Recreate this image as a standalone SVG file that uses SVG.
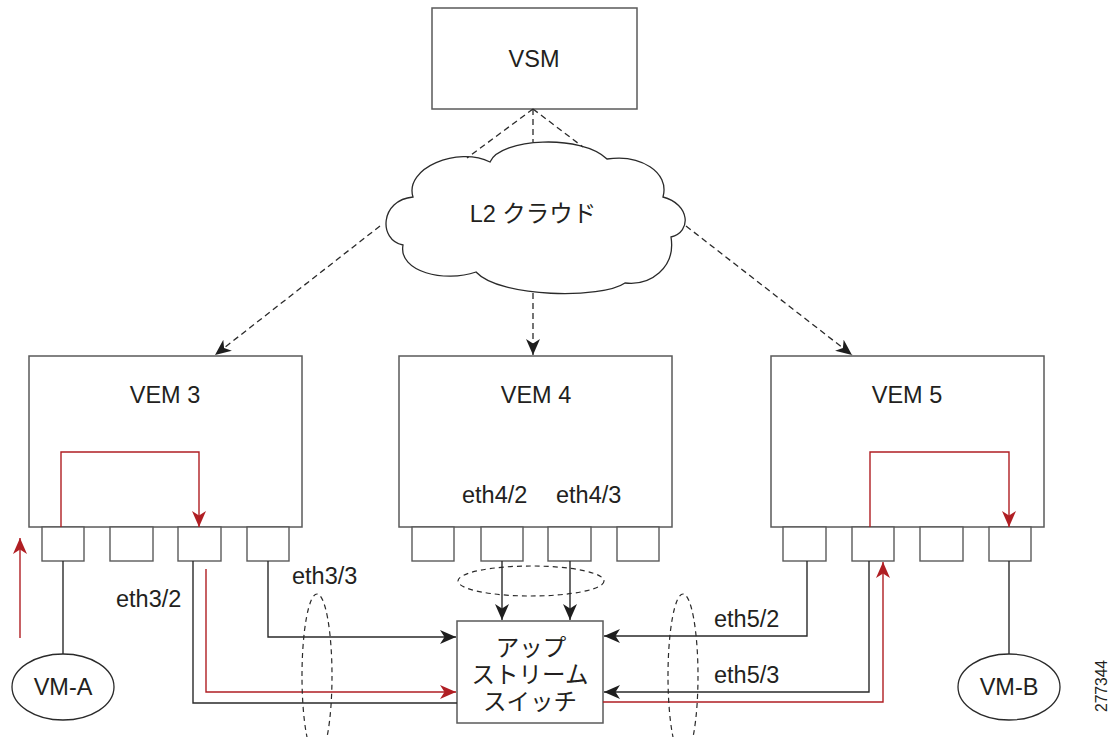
<svg xmlns="http://www.w3.org/2000/svg" width="1119" height="737" viewBox="0 0 1119 737">
  <style>
    .box { fill: #fff; stroke: #5a5a5a; stroke-width: 1.5; }
    .port { fill: #fff; stroke: #5a5a5a; stroke-width: 1.4; }
    .lbl { font-family: "Liberation Sans", "Noto Sans CJK JP", sans-serif; font-size: 23.5px; fill: #231f20; }
    .mid { text-anchor: middle; }
    .wire { fill: none; stroke: #2a2a2a; stroke-width: 1.4; }
    .red { fill: none; stroke: #b01e23; stroke-width: 1.4; }
    .dash { fill: none; stroke: #2a2a2a; stroke-width: 1.3; stroke-dasharray: 6 4; }
    .grp { fill: none; stroke: #2a2a2a; stroke-width: 1.2; stroke-dasharray: 5 4; }
    .cloud { fill: #fff; stroke: #2a2a2a; stroke-width: 1.3; }
    .vm { fill: #fff; stroke: #2a2a2a; stroke-width: 1.3; }
  </style>
  <defs>
    <marker id="ah" markerUnits="userSpaceOnUse" markerWidth="17" markerHeight="15" refX="16" refY="7" orient="auto">
      <path d="M0,0 L16,7 L0,14 L4.5,7 Z" fill="#1e1e1e"/>
    </marker>
    <marker id="ahr" markerUnits="userSpaceOnUse" markerWidth="17" markerHeight="15" refX="16" refY="7" orient="auto">
      <path d="M0,0 L16,7 L0,14 L4.5,7 Z" fill="#b01e23"/>
    </marker>
  </defs>
  <rect width="1119" height="737" fill="#fff"/>

  <g id="vsm">
    <rect class="box" x="432" y="8" width="205" height="101"/>
    <text class="lbl mid" x="534" y="67">VSM</text>
  </g>

  <g id="cloud">
    <path class="cloud" d="M413,197 C404,168 458,146 490,162 C500,138 582,134 607,159 C640,154 670,172 663,197 C690,204 692,232 671,237 C676,268 650,286 625,283 C602,299 500,298 476,272 C445,283 398,272 403,245 C378,240 380,200 413,197 Z"/>
    <text class="lbl mid" x="533" y="222">L2 クラウド</text>
  </g>

  <g id="vem3">
    <rect class="box" x="29" y="356" width="273" height="171"/>
    <text class="lbl mid" x="165" y="403">VEM 3</text>
    <rect class="port" x="42" y="527" width="42" height="34"/>
    <rect class="port" x="110" y="527" width="43" height="34"/>
    <rect class="port" x="178" y="527" width="43" height="34"/>
    <rect class="port" x="247" y="527" width="42" height="34"/>
    <text class="lbl" x="116" y="607">eth3/2</text>
    <text class="lbl" x="292" y="584">eth3/3</text>
  </g>

  <g id="vem4">
    <rect class="box" x="399" y="356" width="273" height="171"/>
    <text class="lbl mid" x="536" y="403">VEM 4</text>
    <text class="lbl" x="462" y="503">eth4/2</text>
    <text class="lbl" x="556" y="503">eth4/3</text>
    <rect class="port" x="412" y="527" width="42" height="34"/>
    <rect class="port" x="481" y="527" width="42" height="34"/>
    <rect class="port" x="548" y="527" width="43" height="34"/>
    <rect class="port" x="617" y="527" width="42" height="34"/>
  </g>

  <g id="vem5">
    <rect class="box" x="771" y="356" width="273" height="171"/>
    <text class="lbl mid" x="907" y="403">VEM 5</text>
    <rect class="port" x="783" y="527" width="43" height="34"/>
    <rect class="port" x="852" y="527" width="42" height="34"/>
    <rect class="port" x="920" y="527" width="43" height="34"/>
    <rect class="port" x="989" y="527" width="42" height="34"/>
    <text class="lbl" x="714" y="627">eth5/2</text>
    <text class="lbl" x="714" y="683">eth5/3</text>
  </g>

  <g id="upstream-switch">
    <rect class="box" x="457" y="621" width="146" height="102"/>
    <text class="lbl mid" x="531" y="656">アップ</text>
    <text class="lbl mid" x="530" y="683">ストリーム</text>
    <text class="lbl mid" x="530" y="710">スイッチ</text>
  </g>

  <g id="vm-a">
    <ellipse class="vm" cx="63" cy="687" rx="51" ry="33"/>
    <text class="lbl mid" x="63" y="695">VM-A</text>
  </g>

  <g id="vm-b">
    <ellipse class="vm" cx="1009" cy="687" rx="51" ry="33"/>
    <text class="lbl mid" x="1009" y="695">VM-B</text>
  </g>

  <!-- control links, uplinks and the traffic path, drawn over the nodes -->
  <g id="connectors">
    <path class="dash" d="M533,109 L467,158"/>
    <path class="dash" d="M533,109 L533,142"/>
    <path class="dash" d="M533,109 L583,147"/>
    <path class="dash" d="M380,226 L215,355" marker-end="url(#ah)"/>
    <path class="dash" d="M533,293 L533,355" marker-end="url(#ah)"/>
    <path class="dash" d="M686,226 L852,355" marker-end="url(#ah)"/>

    <path class="wire" d="M63,561 V654"/>
    <path class="wire" d="M193,561 V703 H457"/>
    <path class="wire" d="M268,561 V637 H456" marker-end="url(#ah)"/>
    <path class="wire" d="M502,561 V620" marker-end="url(#ah)"/>
    <path class="wire" d="M570,561 V620" marker-end="url(#ah)"/>
    <path class="wire" d="M807,561 V636 H604" marker-end="url(#ah)"/>
    <path class="wire" d="M869,561 V692 H604" marker-end="url(#ah)"/>
    <path class="wire" d="M1009,561 V654"/>

    <path class="red" d="M20,638 V538" marker-end="url(#ahr)"/>
    <path class="red" d="M61,527 V452 H199 V527" marker-end="url(#ahr)"/>
    <path class="red" d="M206,569 V692 H456" marker-end="url(#ahr)"/>
    <path class="red" d="M603,702 H883 V562" marker-end="url(#ahr)"/>
    <path class="red" d="M870,527 V452 H1009 V527" marker-end="url(#ahr)"/>

    <ellipse class="grp" cx="317" cy="676" rx="15" ry="82"/>
    <ellipse class="grp" cx="683" cy="676" rx="15" ry="82"/>
    <ellipse class="grp" cx="531" cy="581" rx="73" ry="15"/>
  </g>

  <text class="lbl mid" transform="translate(1107,686) rotate(-90)" style="font-size:16px" textLength="52" lengthAdjust="spacingAndGlyphs">277344</text>
</svg>
